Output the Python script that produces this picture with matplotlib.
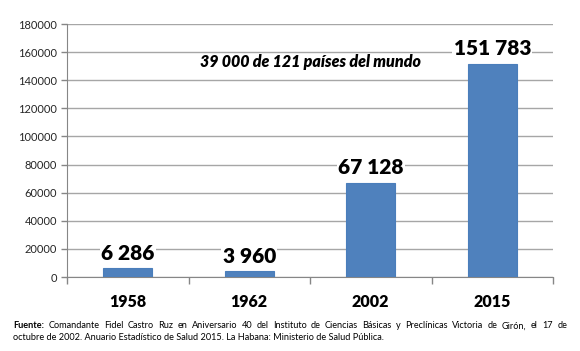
import matplotlib
matplotlib.use("Agg")
import matplotlib.pyplot as plt
from matplotlib.ticker import FixedLocator

# datos
anios = ["1958", "1962", "2002", "2015"]
valores = [6286, 3960, 67128, 151783]
etiquetas = ["6 286", "3 960", "67 128", "151 783"]
yticks = [0, 20000, 40000, 60000, 80000, 100000, 120000, 140000, 160000, 180000]

linea1 = "Comandante Fidel Castro Ruz en Aniversario 40 del Instituto de Ciencias Básicas y Preclínicas Victoria de Girón, el 17 de"
linea2 = "octubre de 2002. Anuario Estadístico de Salud 2015. La Habana: Ministerio de Salud Pública."

plt.rcParams['font.family'] = ['Lato', 'DejaVu Sans']

W, H = 580, 351
fig = plt.figure(figsize=(W/100, H/100), dpi=100)
ax = fig.add_axes([67/W, 1 - 277/H, (553-67)/W, (277-24)/H])

x = list(range(len(anios)))
ax.bar(x, valores, width=0.40, color="#4F81BD", edgecolor="#4A7EBB", linewidth=0.8, zorder=3)

for xi, v, lab in zip(x, valores, etiquetas):
    ax.text(xi, v + 4000, lab, ha="center", va="bottom", fontsize=15,
            fontweight="heavy", color="black", zorder=4,
            bbox=dict(facecolor="white", edgecolor="none", pad=1))

ax.set_xlim(-0.5, 3.5)
ax.set_ylim(0, 180000)
ax.set_yticks(yticks)
ax.set_yticklabels([str(t) for t in yticks], fontsize=8, color="#262626")
ax.set_xticks(x)
ax.set_xticklabels(anios, fontsize=11.5, fontweight="heavy")
ax.xaxis.set_minor_locator(FixedLocator([-0.5, 0.5, 1.5, 2.5, 3.5]))
ax.tick_params(axis="x", which="major", length=0, pad=12)
ax.tick_params(axis="x", which="minor", length=5, color="#868686", width=1)
ax.tick_params(axis="y", length=4, color="#868686", width=1, pad=3)

ax.grid(axis="y", color="#A6A6A6", linewidth=1, zorder=0)
for s in ["top", "right"]:
    ax.spines[s].set_visible(False)
ax.spines["left"].set_color("#868686")
ax.spines["bottom"].set_color("#868686")

ax.text(1.5, 153000, "39 000 de 121 países del mundo", ha="center", va="center",
        fontsize=11.5, fontweight="heavy", fontstyle="italic", zorder=4)

# pie de fuente, primera linea justificada
fig.canvas.draw()
r = fig.canvas.get_renderer()
y1 = 1 - 326/H
y2 = 1 - 337/H
x0, x1 = 13, 567
fs = 6.6
palabras = [("Fuente:", "bold")] + [(p, "normal") for p in linea1.split()]
objs = []
for p, wgt in palabras:
    t = fig.text(0, y1, p, fontsize=fs, fontweight=wgt, va="center", ha="left")
    objs.append(t)
anchos = [t.get_window_extent(r).width for t in objs]
hueco = (x1 - x0 - sum(anchos)) / (len(objs) - 1)
pos = x0
for t, a in zip(objs, anchos):
    t.set_x(pos / W)
    pos += a + hueco
fig.text(x0/W, y2, linea2, fontsize=fs, va="center", ha="left")

fig.savefig("out.png", dpi=100)
